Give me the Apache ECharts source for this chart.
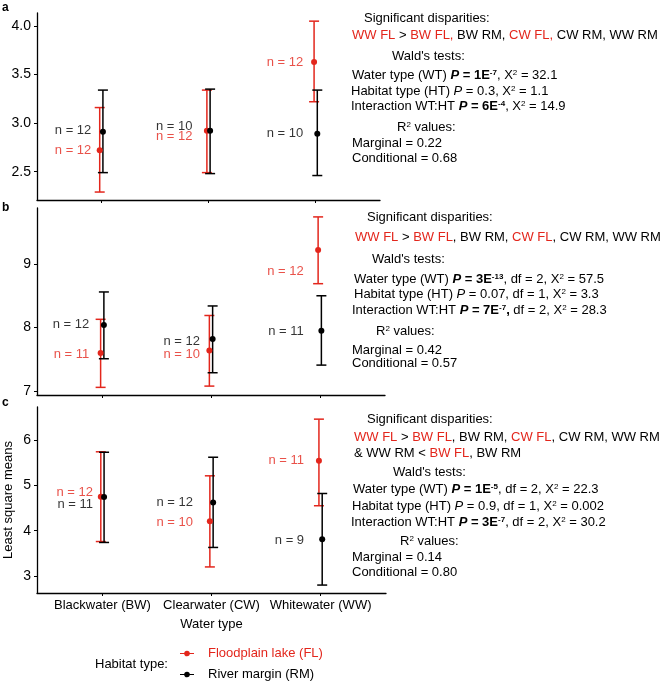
<!DOCTYPE html>
<html>
<head>
<meta charset="utf-8">
<script src="https://cdn.jsdelivr.net/npm/echarts@6/dist/echarts.min.js"></script>
<style>html,body{margin:0;padding:0;background:#fff}#chart{width:668px;height:682px}</style>
</head>
<body>
<div id="chart"></div>
<script>
// ---------------- DATA ----------------
const categories = ['Blackwater (BW)', 'Clearwater (CW)', 'Whitewater (WW)'];

// Panel a
const aFLMean = [2.72, 2.92, 3.63];
const aFLLow  = [2.29, 2.49, 3.22];
const aFLHigh = [3.16, 3.34, 4.05];
const aRMMean = [2.91, 2.92, 2.89];
const aRMLow  = [2.49, 2.48, 2.46];
const aRMHigh = [3.34, 3.35, 3.34];
const aFLn = [12, 12, 12];
const aRMn = [12, 10, 10];
const aFLnY = [2.72, 2.86, 3.63];
const aRMnY = [2.92, 2.97, 2.89];
const aTicks = [2.5, 3.0, 3.5, 4.0];

// Panel b
const bFLMean = [7.60, 7.64, 9.22];
const bFLLow  = [7.06, 7.08, 8.69];
const bFLHigh = [8.13, 8.19, 9.74];
const bRMMean = [8.04, 7.82, 7.95];
const bRMLow  = [7.51, 7.29, 7.41];
const bRMHigh = [8.56, 8.34, 8.50];
const bFLn = [11, 10, 12];
const bRMn = [12, 12, 11];
const bFLnY = [7.58, 7.58, 8.88];
const bRMnY = [8.05, 7.79, 7.94];
const bTicks = [7, 8, 9];

// Panel c
const cFLMean = [4.75, 4.21, 5.54];
const cFLLow  = [3.76, 3.20, 4.55];
const cFLHigh = [5.74, 5.21, 6.46];
const cRMMean = [4.74, 4.62, 3.81];
const cRMLow  = [3.74, 3.63, 2.80];
const cRMHigh = [5.73, 5.62, 4.82];
const cFLn = [12, 10, 11];
const cRMn = [11, 12, 9];
const cFLnY = [4.85, 4.18, 5.54];
const cRMnY = [4.58, 4.63, 3.79];
const cTicks = [3, 4, 5, 6];

// ---------------- STYLE / LAYOUT ----------------
const RED = '#E3261C';
const BLACK = '#000000';
const FONT = '"Liberation Sans", Arial, Helvetica, sans-serif';
const DODGE = 0.015;

const panels = [
  {d:{flMean:aFLMean, flLow:aFLLow, flHigh:aFLHigh, rmMean:aRMMean, rmLow:aRMLow, rmHigh:aRMHigh, flN:aFLn, rmN:aRMn, flNY:aFLnY, rmNY:aRMnY},
   ticks:aTicks, fmt:v=>v.toFixed(1), yMin:2.208, yMax:4.134,
   grid:{left:37, top:13, width:343, height:187}, labelDist:[10, 16, 12.5]},
  {d:{flMean:bFLMean, flLow:bFLLow, flHigh:bFLHigh, rmMean:bRMMean, rmLow:bRMLow, rmHigh:bRMHigh, flN:bFLn, rmN:bRMn, flNY:bFLnY, rmNY:bRMnY},
   ticks:bTicks, fmt:v=>String(v), yMin:6.94, yMax:9.88,
   grid:{left:37, top:208, width:348, height:187}, labelDist:[13, 11, 16]},
  {d:{flMean:cFLMean, flLow:cFLLow, flHigh:cFLHigh, rmMean:cRMMean, rmLow:cRMLow, rmHigh:cRMHigh, flN:cFLn, rmN:cRMn, flNY:cFLnY, rmNY:cRMnY},
   ticks:cTicks, fmt:v=>String(v), yMin:2.625, yMax:6.728,
   grid:{left:37, top:407, width:349, height:186}, labelDist:[9.5, 18.5, 16.5]}
];

function errRender(color) {
  return function (params, api) {
    const x = api.value(0);
    const lo = api.coord([x, api.value(1)]);
    const hi = api.coord([x, api.value(2)]);
    const h = 5;
    const st = {stroke: color, lineWidth: 1.5};
    return {type:'group', children:[
      {type:'line', shape:{x1:lo[0], y1:lo[1], x2:hi[0], y2:hi[1]}, style:st},
      {type:'line', shape:{x1:hi[0]-h, y1:hi[1], x2:hi[0]+h, y2:hi[1]}, style:st},
      {type:'line', shape:{x1:lo[0]-h, y1:lo[1], x2:lo[0]+h, y2:lo[1]}, style:st}
    ]};
  };
}

const grids = [], xAxes = [], yAxes = [], series = [];
panels.forEach((p, k) => {
  grids.push(Object.assign({outerBoundsMode:'none', containLabel:false}, p.grid));
  const isLast = k === panels.length - 1;
  xAxes.push({
    type:'value', gridIndex:k, min:0.4, max:3.6,
    axisLine:{show:true, onZero:false, lineStyle:{color:BLACK, width:1.3}},
    axisTick:{show:true, length:3, customValues:[1,2,3], lineStyle:{color:BLACK}},
    axisLabel:{show:isLast, customValues:[1,2,3], margin:6, color:BLACK, fontSize:13, fontFamily:FONT,
               formatter:v=>categories[Math.round(v)-1] || ''},
    splitLine:{show:false},
    name: isLast ? 'Water type' : '', nameLocation:'middle', nameGap:25, nameMoveOverlap:false,
    nameTextStyle:{color:BLACK, fontSize:13, fontFamily:FONT}
  });
  yAxes.push({
    type:'value', gridIndex:k, min:p.yMin, max:p.yMax,
    axisLine:{show:true, onZero:false, lineStyle:{color:BLACK, width:1.3}},
    axisTick:{show:true, length:3, customValues:p.ticks, lineStyle:{color:BLACK}},
    axisLabel:{customValues:p.ticks, margin:6, color:BLACK, fontSize:14, fontFamily:FONT, formatter:p.fmt},
    splitLine:{show:false},
    name: isLast ? 'Least square means' : '', nameLocation:'middle', nameRotate:90, nameGap:22, nameMoveOverlap:false,
    nameTextStyle:{color:BLACK, fontSize:13, fontFamily:FONT}
  });
  const d = p.d;
  series.push({
    type:'custom', name:'Floodplain lake (FL)', xAxisIndex:k, yAxisIndex:k, renderItem:errRender(RED),
    itemStyle:{color:RED}, encode:{x:0, y:[1,2]}, z:2, silent:true,
    data: categories.map((c,i)=>[i+1-DODGE, d.flLow[i], d.flHigh[i]])
  });
  series.push({
    type:'custom', name:'River margin (RM)', xAxisIndex:k, yAxisIndex:k, renderItem:errRender(BLACK),
    itemStyle:{color:BLACK}, encode:{x:0, y:[1,2]}, z:3, silent:true,
    data: categories.map((c,i)=>[i+1+DODGE, d.rmLow[i], d.rmHigh[i]])
  });
  series.push({
    type:'scatter', name:'Floodplain lake (FL)', xAxisIndex:k, yAxisIndex:k, symbolSize:6, z:4,
    itemStyle:{color:RED, opacity:1}, silent:true,
    data: categories.map((c,i)=>[i+1-DODGE, d.flMean[i]])
  });
  series.push({
    type:'scatter', name:'River margin (RM)', xAxisIndex:k, yAxisIndex:k, symbolSize:6, z:5,
    itemStyle:{color:BLACK, opacity:1}, silent:true,
    data: categories.map((c,i)=>[i+1+DODGE, d.rmMean[i]])
  });
  [['fl', RED], ['rm', BLACK]].forEach(([g, col]) => {
    series.push({
      type:'scatter', xAxisIndex:k, yAxisIndex:k, symbolSize:0, z:6, silent:true,
      itemStyle:{color:'transparent'},
      data: categories.map((c,i)=>({
        value:[i+1, d[g+'NY'][i], d[g+'N'][i]],
        label:{distance:p.labelDist[i]}
      })),
      label:{show:true, position:'left', color:col, fontSize:13, fontFamily:FONT,
             formatter:q=>'n = ' + q.value[2]}
    });
  });
});

// ---------------- TEXT ANNOTATIONS ----------------
const rich = {
  r:{fill:RED, font:'13px ' + FONT},
  b:{fill:BLACK, font:'bold 13px ' + FONT},
  bi:{fill:BLACK, font:'italic bold 13px ' + FONT},
  i:{fill:BLACK, font:'italic 13px ' + FONT},
  s:{fill:BLACK, font:'8px ' + FONT, verticalAlign:'top'},
  sb:{fill:BLACK, font:'bold 8px ' + FONT, verticalAlign:'top'}
};
function line(x, y, text) {
  return {type:'text', x:x, y:y, silent:true,
    style:{text:text, rich:rich, fill:BLACK, font:'13px ' + FONT,
           align:'left', verticalAlign:'middle', textAlign:'left', textVerticalAlign:'middle'}};
}
function letter(x, y, t) {
  return {type:'text', x:x, y:y, silent:true,
    style:{text:t, fill:BLACK, font:'bold 12px ' + FONT, verticalAlign:'middle', textVerticalAlign:'middle'}};
}
const annotations = [
  // panel a
  line(364, 18, 'Significant disparities:'),
  line(352, 35, '{r|WW FL} > {r|BW FL,} BW RM, {r|CW FL,} CW RM, WW RM'),
  line(392, 56, "Wald's tests:"),
  line(352, 75, 'Water type (WT) {bi|P}{b| = 1E}{sb|-7}, X{s|2} = 32.1'),
  line(351, 91, 'Habitat type (HT) {i|P} = 0.3, X{s|2} = 1.1'),
  line(351, 106, 'Interaction WT:HT {bi|P}{b| = 6E}{sb|-4}, X{s|2} = 14.9'),
  line(397, 127, 'R{s|2} values:'),
  line(352, 143, 'Marginal = 0.22'),
  line(352, 158, 'Conditional = 0.68'),
  // panel b
  line(367, 217, 'Significant disparities:'),
  line(355, 237, '{r|WW FL} > {r|BW FL}, BW RM, {r|CW FL}, CW RM, WW RM'),
  line(372, 259, "Wald's tests:"),
  line(354, 279, 'Water type (WT) {bi|P}{b| = 3E}{sb|-13}, df = 2, X{s|2} = 57.5'),
  line(354, 294, 'Habitat type (HT) {i|P} = 0.07, df = 1, X{s|2} = 3.3'),
  line(352, 310, 'Interaction WT:HT {bi|P}{b| = 7E}{sb|-7}{b|,} df = 2, X{s|2} = 28.3'),
  line(376, 331, 'R{s|2} values:'),
  line(352, 350, 'Marginal = 0.42'),
  line(352, 363, 'Conditional = 0.57'),
  // panel c
  line(367, 419, 'Significant disparities:'),
  line(354, 437, '{r|WW FL} > {r|BW FL}, BW RM, {r|CW FL}, CW RM, WW RM'),
  line(354, 453, '& WW RM < {r|BW FL}, BW RM'),
  line(393, 472, "Wald's tests:"),
  line(353, 489, 'Water type (WT) {bi|P}{b| = 1E}{sb|-5}, df = 2, X{s|2} = 22.3'),
  line(352, 506, 'Habitat type (HT) {i|P} = 0.9, df = 1, X{s|2} = 0.002'),
  line(351, 522, 'Interaction WT:HT {bi|P}{b| = 3E}{sb|-7}, df = 2, X{s|2} = 30.2'),
  line(400, 541, 'R{s|2} values:'),
  line(352, 557, 'Marginal = 0.14'),
  line(352, 572, 'Conditional = 0.80'),
  // panel letters
  letter(2, 8, 'a'),
  letter(2, 208, 'b'),
  letter(2, 403, 'c'),
  // legend title
  line(95, 664, 'Habitat type:')
];

const ICON = 'path://M0,3.4H14V4.6H0Z M7,1.2A2.8,2.8,0,1,1,6.99,1.2Z';

const chart = echarts.init(document.getElementById('chart'), null, {renderer:'canvas'});
chart.setOption({
  animation:false,
  backgroundColor:'#ffffff',
  grid:grids, xAxis:xAxes, yAxis:yAxes, series:series,
  legend:{
    orient:'vertical', left:180, top:647, height:35, padding:0,
    itemWidth:14, itemHeight:8, itemGap:8, selectedMode:false,
    textStyle:{fontSize:13, fontFamily:FONT, padding:[0,0,0,9]},
    data:[
      {name:'Floodplain lake (FL)', icon:ICON, itemStyle:{color:RED}, textStyle:{color:RED}},
      {name:'River margin (RM)', icon:ICON, itemStyle:{color:BLACK}, textStyle:{color:BLACK}}
    ]
  },
  graphic:{elements:annotations}
});
</script>
</body>
</html>
